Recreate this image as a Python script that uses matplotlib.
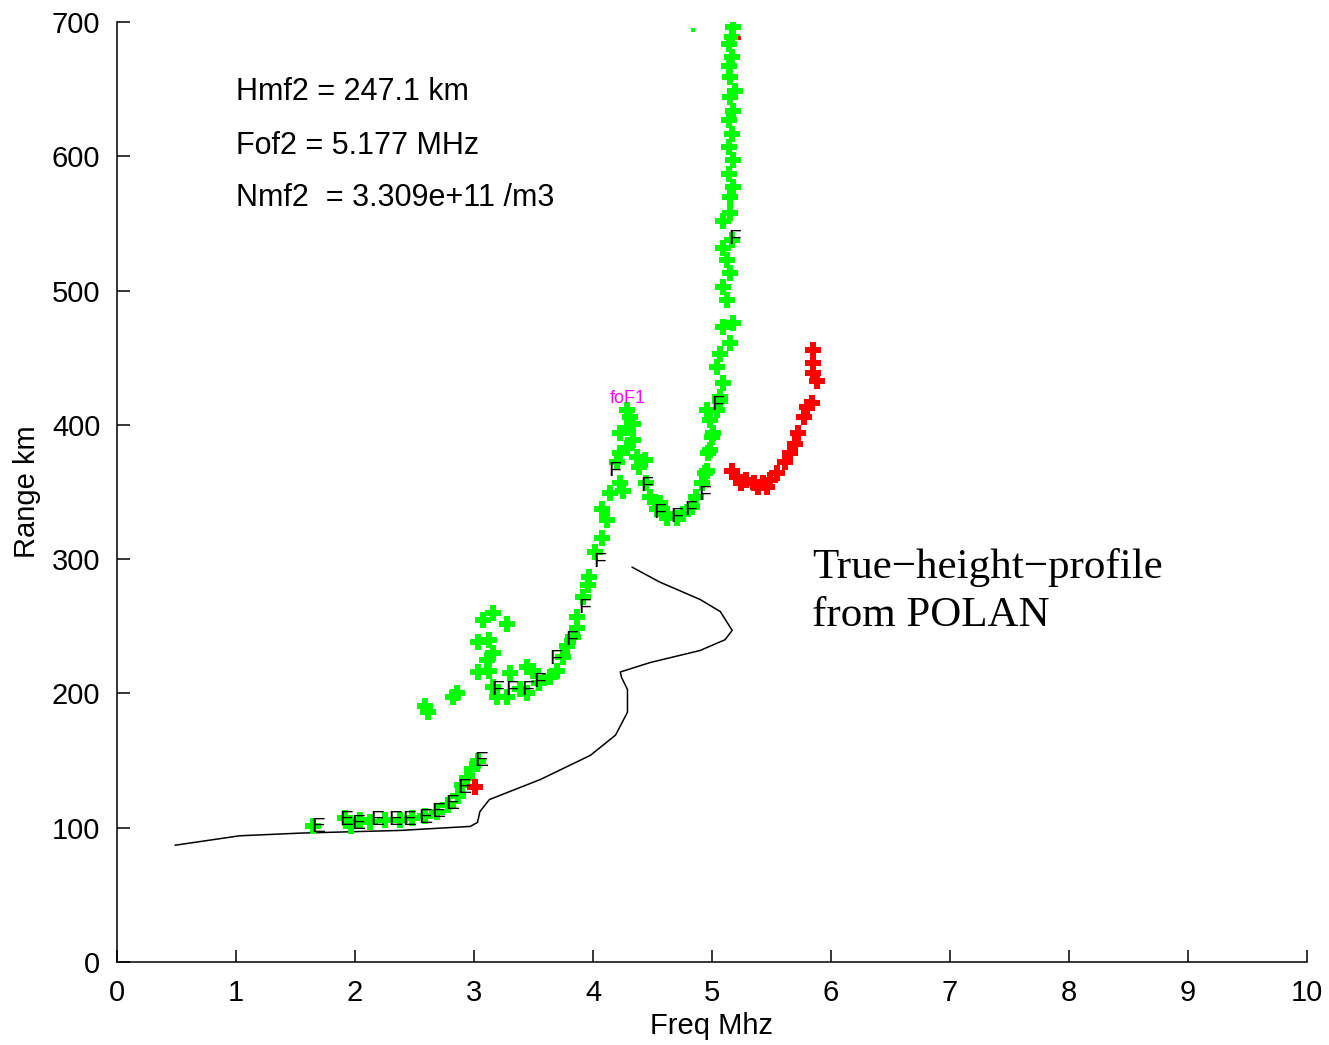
import numpy as np
import matplotlib
matplotlib.use("Agg")
from matplotlib import pyplot as plt

plt.rcParams['font.family'] = ['Liberation Sans', 'DejaVu Sans']

############################  DATA  ############################

# green echoes (freq MHz, range km)
green_f = [1.65, 1.92, 1.97, 2.04, 2.13, 2.25, 2.38, 2.48, 2.59, 2.69, 2.78, 2.87, 2.90, 2.94, 2.98, 3.03,
           2.59, 2.61, 2.82, 2.86,
           3.08, 3.16, 3.28, 3.03, 3.13, 3.16, 3.11, 3.13, 3.03, 3.30, 3.45, 3.50, 3.16, 3.19, 3.28, 3.39,
           3.45, 3.55, 3.64, 3.70, 3.75, 3.78, 3.83, 3.87, 3.92, 3.87, 3.96,
           3.97, 4.02, 4.08, 4.12, 4.08, 4.14, 4.23, 4.25, 4.20, 4.23, 4.29, 4.34, 4.23, 4.29, 4.31, 4.34,
           4.29, 4.37, 4.39, 4.44, 4.45, 4.48, 4.54, 4.62,
           4.56, 4.62, 4.71, 4.76, 4.83, 4.87, 4.92, 4.96, 4.97, 5.00, 4.98, 5.04, 5.07, 5.09,
           4.94, 4.98, 5.01, 4.96, 5.07, 5.09, 5.04, 5.07, 5.15, 5.09, 5.18, 5.13, 5.09, 5.15, 5.13, 5.09,
           5.17, 5.09, 5.15, 5.15, 5.18, 5.14, 5.18, 5.14, 5.17, 5.14, 5.18, 5.15, 5.19, 5.15, 5.14, 5.17,
           5.14, 5.17, 5.18]
green_r = [101, 107, 101, 106, 104, 106, 106, 107, 109, 112, 117, 124, 132, 137, 144, 150,
           191, 186, 197, 200,
           255, 260, 252, 238, 240, 230, 225, 217, 216, 215, 220, 217, 205, 197, 197, 203,
           200, 208, 212, 217, 227, 235, 242, 249, 272, 257, 281,
           287, 305, 316, 329, 337, 349, 357, 351, 372, 379, 383, 389, 394, 398, 406, 401,
           411, 376, 369, 374, 357, 346, 337, 331,
           342, 334, 331, 334, 339, 346, 357, 366, 379, 391, 404, 411, 421, 431,
           364, 381, 394, 411, 418, 431, 443, 453, 461, 473, 476, 493, 503, 513, 523, 532,
           538, 552, 558, 570, 577, 587, 597, 607, 617, 627, 634, 644, 649, 659, 667, 674,
           684, 689, 696]

# red echoes
red_f = [3.01, 5.17, 5.21, 5.24, 5.29, 5.35, 5.39, 5.43, 5.46, 5.49, 5.55, 5.61, 5.66, 5.70, 5.72,
         5.77, 5.80, 5.84, 5.85, 5.88, 5.85, 5.85]
red_r = [130, 366, 361, 357, 359, 357, 354, 357, 354, 359, 364, 372, 379, 386, 394,
         406, 413, 416, 439, 433, 446, 456]

# single faint echoes near the top
faint_f = [4.84, 5.23]
faint_r = [694, 688]
faint_c = ['#00ff00', '#ff0000']

# scaled layer labels
e_f = [1.69, 1.93, 2.03, 2.19, 2.34, 2.46, 2.59, 2.70, 2.82, 2.92, 3.06]
e_r = [101, 106, 103, 106, 106, 106, 108, 112, 118, 130, 150]
f_f = [3.20, 3.32, 3.45, 3.55, 3.69, 3.82, 3.93, 4.06, 4.18, 4.45, 4.56, 4.70, 4.82, 4.94, 5.05, 5.19]
f_r = [203, 203, 203, 209, 226, 240, 264, 298, 366, 355, 335, 332, 337, 348, 415, 539]

# true height profile (POLAN)
prof_f = [0.49, 1.03, 1.54, 2.38, 2.97, 3.03, 3.05, 3.13, 3.56, 3.98, 4.19, 4.29, 4.29, 4.24, 4.23,
          4.48, 4.90, 5.11, 5.17, 5.07, 4.90, 4.56, 4.33]
prof_r = [87, 94, 96, 98, 101, 104, 112, 121, 136, 154, 169, 186, 203, 212, 216,
          223, 232, 240, 247, 261, 270, 283, 294]

hmf2 = 247.1
fof2 = 5.177
nmf2 = 3.309e+11

############################  PLOT  ############################

fig = plt.figure(figsize=(13.29, 10.45), dpi=100)
ax = fig.add_axes([0.088, 0.0794, 0.8954, 0.8995])

ax.plot(prof_f, prof_r, color='black', lw=1.1)
ax.scatter(green_f, green_r, marker='P', s=120, color='#00ff00', linewidths=0, zorder=3)
ax.scatter(red_f, red_r, marker='P', s=120, color='#ff0000', linewidths=0, zorder=3)
ax.scatter(faint_f, faint_r, marker='s', s=6, c=faint_c, linewidths=0, zorder=3)

for x, y in zip(e_f, e_r):
    ax.text(x, y, 'E', fontsize=15, ha='center', va='center', zorder=4)
for x, y in zip(f_f, f_r):
    ax.text(x, y, 'F', fontsize=15, ha='center', va='center', zorder=4)
ax.text(4.29, 420, 'foF1', color='#ff00ff', fontsize=13, ha='center', va='center', zorder=4)

ax.text(1.0, 648, f'Hmf2 = {hmf2} km', fontsize=22, va='center')
ax.text(1.0, 608, f'Fof2 = {fof2} MHz', fontsize=22, va='center')
ax.text(1.0, 569, f'Nmf2  = {nmf2:.3e} /m3', fontsize=22, va='center')

serif = ['Liberation Serif', 'DejaVu Serif']
ax.text(5.84, 294, 'True\u2212height\u2212profile', fontsize=31, va='center', family=serif)
ax.text(5.84, 258, 'from POLAN', fontsize=31, va='center', family=serif)

ax.set_xlim(0, 10)
ax.set_ylim(0, 700)
ax.set_xticks(range(0, 11))
ax.set_yticks(range(0, 701, 100))
ax.tick_params(direction='in', length=9, width=1.1, labelsize=21, pad=12)
for s in ['top', 'right']:
    ax.spines[s].set_visible(False)
for s in ['left', 'bottom']:
    ax.spines[s].set_linewidth(1.1)

ax.set_xlabel('Freq Mhz', fontsize=21, labelpad=4)
ax.set_ylabel('Range km', fontsize=21, labelpad=8)

fig.savefig('out.png', dpi=100)
